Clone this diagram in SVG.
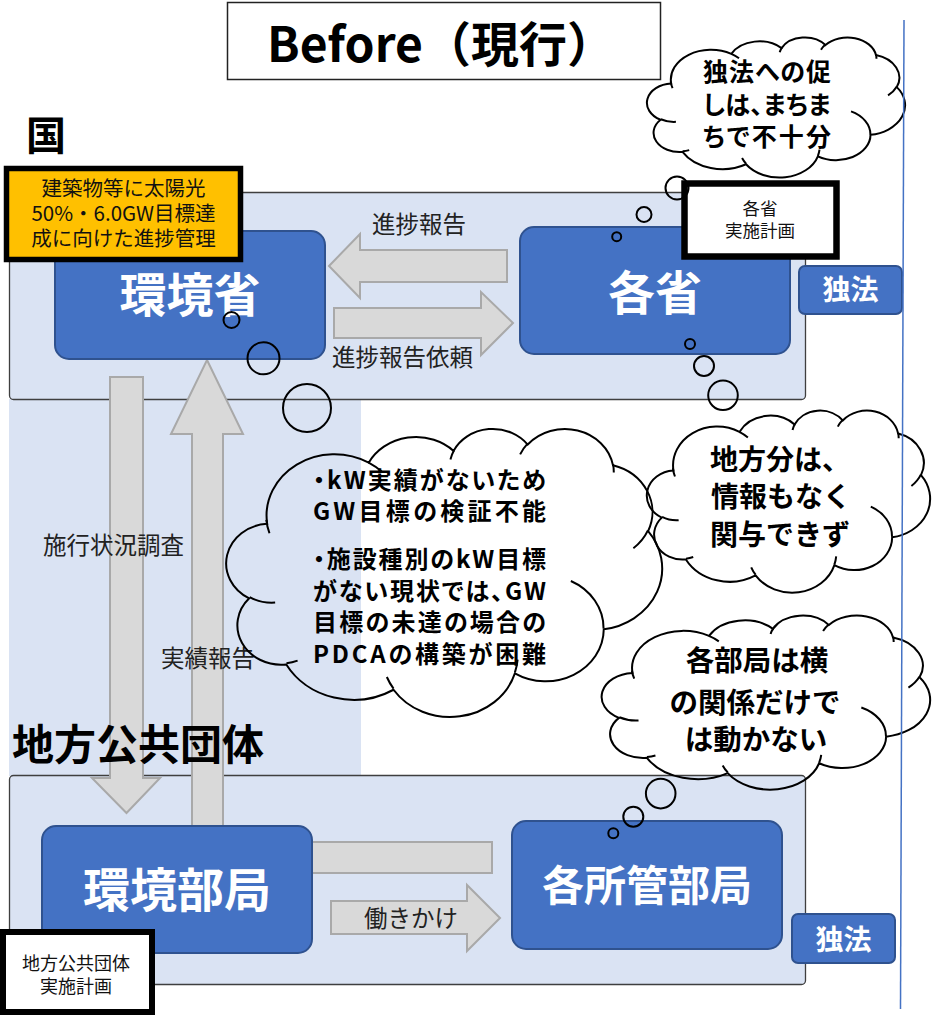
<svg xmlns="http://www.w3.org/2000/svg" xmlns:xlink="http://www.w3.org/1999/xlink" width="933" height="1016" viewBox="0 0 933 1016">
<style>
text{font-family:"Noto Sans CJK JP","Noto Sans",sans-serif;}
.panel{fill:#DAE3F3;stroke:#3F3F3F;stroke-width:1.3;}
.node{fill:#4472C4;stroke:#2F528F;stroke-width:2;}
.arrow{fill:#D9D9D9;stroke:#A9A9A9;stroke-width:2;}
.cl{fill:none;stroke:#000;stroke-width:2;vector-effect:non-scaling-stroke;}
.bub{fill:none;stroke:#000;stroke-width:2;}
.nt{fill:#fff;font-weight:700;text-anchor:middle;}
.lbl{fill:#222;font-size:23.5px;}
.ct{fill:#000;font-weight:700;font-feature-settings:"palt";}
.ctc{fill:#000;font-weight:700;text-anchor:middle;}
.sm{fill:#111;text-anchor:middle;}
</style>
<defs>
<path id="cloudOuter" class="cl" d="M3900 14370 A6753 9190 0 0 1 14005 5201 A5333 7267 0 0 1 22455 3432 A4365 5945 0 0 1 29832 2481 A4857 6595 0 0 1 38317 5574 A5333 7273 0 0 1 41818 15458 A6775 9220 0 0 1 37403 30199 A5785 7867 0 0 1 28554 36809 A6752 9215 0 0 1 16479 39262 A7720 10543 0 0 1 5802 35467 A4360 5918 0 0 1 2111 25545 A4345 5945 0 0 1 3900 14370 Z"/>
<path id="cloudInner" class="cl" d="M4693 26177 A4345 5945 0 0 1 2159 25380 M6928 34899 A4360 5918 0 0 1 5819 35281 M16478 39090 A6752 9215 0 0 1 15810 37349 M28827 34751 A6752 9215 0 0 1 28561 36659 M34129 22954 A5785 7867 0 0 1 37381 30090 M41798 15354 A5333 7273 0 0 1 40350 18030 M38324 5426 A4857 6595 0 0 1 38401 6691 M29078 3952 A4857 6595 0 0 1 29820 2339 M22141 4720 A4365 5945 0 0 1 22500 3331 M14000 5192 A6753 9190 0 0 1 15300 6541 M4127 15789 A6753 9190 0 0 1 3814 13780"/>
</defs>
<rect width="933" height="1016" fill="#fff"/>

<g id="panels">
<rect x="9" y="399" width="352" height="377" fill="#DAE3F3"/>
<rect class="panel" x="9.5" y="192.5" width="796" height="207" rx="4"/>
<rect class="panel" x="9.5" y="775.5" width="796" height="209" rx="4"/>
</g>

<g id="title">
<rect x="227.5" y="2.5" width="433" height="77" fill="#fff" stroke="#222" stroke-width="1.5"/>
<text x="267" y="62" font-size="48" font-weight="700" fill="#000">Before（現行）</text>
</g>

<g id="connectors">
<polygon class="arrow" points="329,266 360,234 360,250 507,250 507,282 360,282 360,298"/>
<polygon class="arrow" points="334,308 481,308 481,292 513,323 481,355 481,338 334,338"/>
<polygon class="arrow" points="110,377 143,377 143,778 160,778 126.5,813 92,778 110,778"/>
<polygon class="arrow" points="207,360 243,434 223,434 223,828 192,828 192,434 171,434"/>
<rect class="arrow" x="300" y="842" width="192" height="31"/>
<polygon class="arrow" points="331,901 467,901 467,885 500,918 467,951 467,934 331,934"/>
<text class="lbl" x="372" y="233" font-size="23">進捗報告</text>
<text class="lbl" x="332" y="366">進捗報告依頼</text>
<text class="lbl" x="43" y="554" font-size="24">施行状況調査</text>
<text class="lbl" x="161" y="667">実績報告</text>
<text class="lbl" x="411" y="927" font-size="22" text-anchor="middle">働きかけ</text>
</g>

<g id="section-labels">
<text x="26" y="150" font-size="40" font-weight="700" fill="#000">国</text>
<text x="12" y="760" font-size="42" font-weight="700" fill="#000">地方公共団体</text>
</g>

<g id="node-kankyosho">
<rect class="node" x="55" y="231" width="270" height="128" rx="14"/>
<text class="nt" x="190" y="312" font-size="47">環境省</text>
</g>
<g id="node-kakusho">
<rect class="node" x="520" y="227" width="270" height="127" rx="14"/>
<text class="nt" x="655" y="310" font-size="47">各省</text>
</g>
<g id="node-dokuho-top">
<rect class="node" x="799" y="266" width="103" height="48" rx="6"/>
<text class="nt" x="850.5" y="300" font-size="28">独法</text>
</g>
<g id="node-kankyobukyoku">
<rect class="node" x="42" y="826" width="270" height="127" rx="14"/>
<text class="nt" x="177" y="907" font-size="47">環境部局</text>
</g>
<g id="node-kakushokan">
<rect class="node" x="512" y="821" width="270" height="128" rx="14"/>
<text class="nt" x="647" y="901" font-size="42">各所管部局</text>
</g>
<g id="node-dokuho-bottom">
<rect class="node" x="792" y="914" width="103" height="49" rx="6"/>
<text class="nt" x="843.5" y="950" font-size="28">独法</text>
</g>

<g id="note-target">
<rect x="6.5" y="168.5" width="234" height="91" fill="#FFC000" stroke="#000" stroke-width="5.5"/>
<text class="sm" x="123.5" y="196" font-size="20.5">建築物等に太陽光</text>
<text class="sm" x="123.5" y="221" font-size="20.5">50%・6.0GW目標達</text>
<text class="sm" x="123.5" y="246" font-size="20.5">成に向けた進捗管理</text>
</g>
<g id="note-kakusho-plan">
<rect x="684.5" y="183.5" width="152" height="73" fill="#fff" stroke="#000" stroke-width="6.5"/>
<text class="sm" x="760" y="215" font-size="17.5">各省</text>
<text class="sm" x="760" y="237" font-size="17.5">実施計画</text>
</g>
<g id="note-local-plan">
<rect x="3" y="932" width="149" height="80" fill="#fff" stroke="#000" stroke-width="6"/>
<text class="sm" x="76" y="970" font-size="18">地方公共団体</text>
<text class="sm" x="76" y="993" font-size="18">実施計画</text>
</g>

<g id="cloud-dokuho">
<g transform="translate(648,37) scale(0.005949,0.0032407)">
<use xlink:href="#cloudOuter"/><use xlink:href="#cloudInner"/>
</g>
<circle class="bub" cx="677" cy="188" r="11.5"/>
<circle class="bub" cx="644" cy="214.5" r="7.5"/>
<circle class="bub" cx="616.7" cy="236.7" r="4.5"/>
<text class="ct" x="703" y="81" font-size="25" textLength="128" lengthAdjust="spacing">独法への促</text>
<text class="ct" x="703" y="114" font-size="25" textLength="128" lengthAdjust="spacing">しは、まちま</text>
<text class="ct" x="703" y="146" font-size="25" textLength="128" lengthAdjust="spacing">ちで不十分</text>
</g>

<g id="cloud-kw">
<g transform="translate(228,428) scale(0.0100463,0.0066667)">
<use xlink:href="#cloudOuter"/><use xlink:href="#cloudInner"/>
</g>
<circle class="bub" cx="231.5" cy="320" r="8"/>
<circle class="bub" cx="263.5" cy="358.3" r="16"/>
<circle class="bub" cx="307" cy="408" r="24"/>
<text class="ct" x="313" y="489" font-size="24" textLength="233" lengthAdjust="spacing">・kW実績がないため</text>
<text class="ct" x="313" y="520" font-size="24" textLength="233" lengthAdjust="spacing">GW目標の検証不能</text>
<text class="ct" x="313" y="568" font-size="24" textLength="233" lengthAdjust="spacing">・施設種別のkW目標</text>
<text class="ct" x="313" y="600" font-size="24" textLength="233" lengthAdjust="spacing">がない現状では、GW</text>
<text class="ct" x="313" y="631" font-size="24" textLength="233" lengthAdjust="spacing">目標の未達の場合の</text>
<text class="ct" x="313" y="663" font-size="24" textLength="233" lengthAdjust="spacing">PDCAの構築が困難</text>
</g>

<g id="cloud-chiho">
<g transform="translate(648,410) scale(0.0065278,0.0042130)">
<use xlink:href="#cloudOuter"/><use xlink:href="#cloudInner"/>
</g>
<circle class="bub" cx="690" cy="344" r="5"/>
<circle class="bub" cx="704" cy="366" r="10"/>
<circle class="bub" cx="723" cy="395.3" r="14.8"/>
<text class="ctc" x="780" y="470" font-size="28">地方分は、</text>
<text class="ctc" x="781" y="507" font-size="28">情報もなく</text>
<text class="ctc" x="780" y="545" font-size="28">関与できず</text>
</g>

<g id="cloud-bukyoku">
<g transform="translate(603,615) scale(0.0075694,0.0040278)">
<use xlink:href="#cloudOuter"/><use xlink:href="#cloudInner"/>
</g>
<circle class="bub" cx="613.3" cy="833.3" r="5"/>
<circle class="bub" cx="633.3" cy="816.7" r="10"/>
<circle class="bub" cx="660.7" cy="793.6" r="14.8"/>
<text class="ctc" x="757" y="671" font-size="28.5">各部局は横</text>
<text class="ctc" x="755" y="713" font-size="28.5">の関係だけで</text>
<text class="ctc" x="756" y="750" font-size="28.5">は動かない</text>
</g>

<line x1="904" y1="20" x2="900.5" y2="1009" stroke="#4472C4" stroke-width="1.5"/>
</svg>
